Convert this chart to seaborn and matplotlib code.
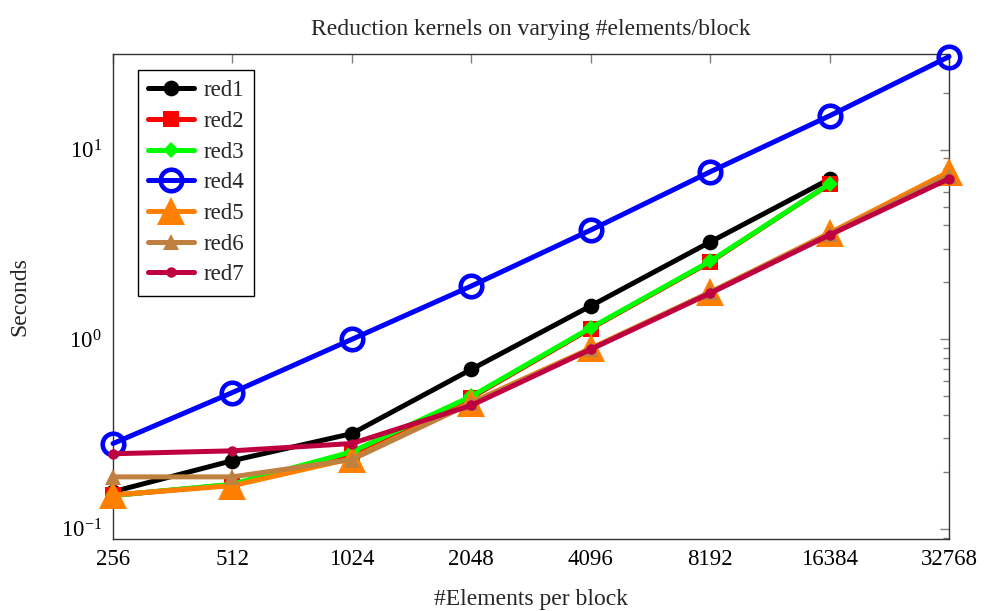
import matplotlib
matplotlib.use("Agg")
import matplotlib.pyplot as plt
import matplotlib.ticker as mticker
import seaborn as sns
import numpy as np

elements = [256, 512, 1024, 2048, 4096, 8192, 16384, 32768]
tick_labels = ["256", "512", "1024", "2048", "4096", "8192", "16384", "32768"]

red1 = [0.157, 0.229, 0.318, 0.694, 1.50, 3.26, 7.0]
red2 = [0.150, 0.171, 0.249, 0.493, 1.14, 2.56, 6.6]
red3 = [0.150, 0.172, 0.255, 0.500, 1.15, 2.58, 6.6]
red4 = [0.282, 0.524, 1.00, 1.91, 3.77, 7.65, 15.1, 31.0]
red5 = [0.151, 0.169, 0.235, 0.464, 0.896, 1.77, 3.64, 7.65]
red6 = [0.188, 0.188, 0.232, 0.460, 0.890, 1.77, 3.60, 7.30]
red7 = [0.249, 0.258, 0.282, 0.448, 0.885, 1.75, 3.55, 7.03]

sns.set_theme(style="white")
plt.rcParams["font.family"] = ["Liberation Serif", "DejaVu Serif"]
plt.rcParams["mathtext.fontset"] = "stix"

fig = plt.figure(figsize=(9.84, 6.11), dpi=100)
ax = fig.add_axes([113/984, 1-539/611, (949-113)/984, (539-54)/611])

series = [
    ("red1", red1, dict(color="black", marker="o", markersize=11.3, markeredgewidth=0)),
    ("red2", red2, dict(color="#ff0000", marker="s", markersize=11, markeredgewidth=0)),
    ("red3", red3, dict(color="#00ff00", marker="D", markersize=8.5, markeredgewidth=0)),
    ("red4", red4, dict(color="#0000ff", marker="o", markersize=15.5, markerfacecolor="none",
                        markeredgewidth=3.3, markeredgecolor="#0000ff")),
    ("red5", red5, dict(color="#ff8000", marker="^", markersize=19.5, markeredgewidth=0)),
    ("red6", red6, dict(color="#bf8040", marker="^", markersize=11.5, markeredgewidth=0)),
    ("red7", red7, dict(color="#bf0040", marker="o", markersize=7.5, markeredgewidth=0)),
]

for name, vals, kw in series:
    sns.lineplot(x=elements[:len(vals)], y=vals, ax=ax, label=name, linewidth=3.6,
                 estimator=None, sort=False, clip_on=False, zorder=3, **kw)

ax.set_xscale("log", base=2)
ax.set_yscale("log")
ax.set_xlim(256, 32768)
ax.set_ylim(0.0884, 32.0)
ax.set_xticks(elements)
ax.set_xticklabels(tick_labels)
ax.xaxis.set_minor_locator(mticker.NullLocator())
ax.yaxis.set_major_locator(mticker.LogLocator(base=10, numticks=10))
ax.yaxis.set_minor_locator(mticker.LogLocator(base=10, subs=np.arange(2, 10), numticks=20))
ax.yaxis.set_minor_formatter(mticker.NullFormatter())
ax.yaxis.set_major_formatter(mticker.LogFormatterMathtext())

ax.tick_params(axis="both", which="both", direction="in", top=True, right=True,
               color="#808080", labelsize=16.5, labelcolor="black")
ax.tick_params(which="major", length=6.5, width=1.0)
ax.tick_params(which="minor", length=4.3, width=1.0)
ax.tick_params(axis="x", pad=7)
ax.tick_params(axis="y", pad=8)
for s in ax.spines.values():
    s.set_color("#333333")
    s.set_linewidth(1.0)

ax.set_title("Reduction kernels on varying #elements/block", fontsize=17, pad=14)
ax.set_xlabel("#Elements per block", fontsize=17, labelpad=14)
ax.set_ylabel("Seconds", fontsize=17, labelpad=22)

leg = ax.legend(loc="upper left", bbox_to_anchor=(25/836, 1 - 16/485), fontsize=16.5,
                frameon=True, fancybox=False, edgecolor="black", framealpha=1,
                handlelength=2.0, labelspacing=0.42, borderpad=0.45, handletextpad=0.4,
                borderaxespad=0)
leg.get_frame().set_linewidth(1.0)
leg.set_zorder(10)

fig.savefig("out.png", dpi=100)
